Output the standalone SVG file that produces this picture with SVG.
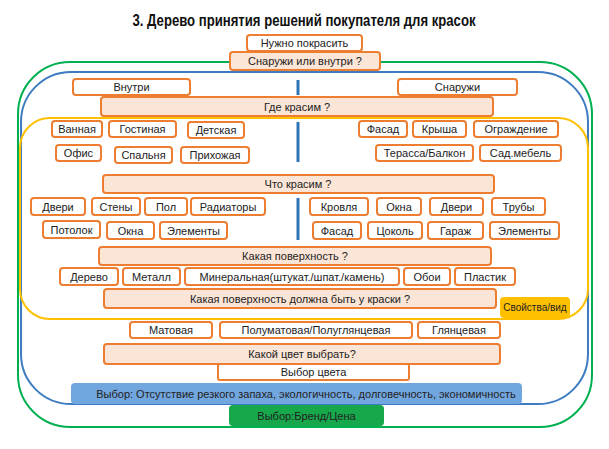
<svg xmlns="http://www.w3.org/2000/svg" width="609" height="449" viewBox="0 0 609 449">
<style>
.t{font-family:"Liberation Sans",Arial,sans-serif;font-size:11px;fill:#222;text-anchor:middle;dominant-baseline:central}
.b{fill:#fff;stroke:#ED7D31;stroke-width:2}
.p{fill:#FBE5D6;stroke:#ED7D31;stroke-width:2}
.ln{fill:none;stroke-width:2}
.tick{stroke:#2E75B6;stroke-width:3}
</style>
<rect width="609" height="449" fill="#fff"/>
<text x="304" y="20" font-family="Liberation Sans,Arial,sans-serif" font-weight="bold" font-size="16" text-anchor="middle" dominant-baseline="central" fill="#111" textLength="343" lengthAdjust="spacingAndGlyphs">3. Дерево принятия решений покупателя для красок</text>
<g id="frames">
<rect class="ln" x="18" y="62" width="574" height="365" rx="52" stroke="#00B050"/>
<rect class="ln" x="21" y="72" width="567" height="332" rx="50" stroke="#3D7CC0"/>
<rect class="ln" x="20" y="118" width="568" height="201" rx="30" stroke="#FFC000"/>
</g>
<g id="connectors">
<line class="tick" x1="298" y1="80" x2="298" y2="95"/>
<line class="tick" x1="298" y1="122" x2="298" y2="162"/>
<line class="tick" x1="298" y1="198" x2="298" y2="240"/>
</g>
<g id="n1"><rect class="b" x="247" y="35" width="115" height="16" rx="3"/><text class="t" x="304.5" y="43">Нужно покрасить</text></g>
<g id="n2"><rect class="p" x="230" y="52" width="150" height="18" rx="3"/><text class="t" x="305" y="61">Снаружи или внутри ?</text></g>
<g id="n3"><rect class="b" x="73" y="79" width="117" height="16" rx="3"/><text class="t" x="131.5" y="87">Внутри</text></g>
<g id="n4"><rect class="b" x="398" y="79" width="119" height="16" rx="3"/><text class="t" x="457.5" y="87">Снаружи</text></g>
<g id="n5"><rect class="p" x="101" y="97" width="392" height="19" rx="3"/><text class="t" x="297" y="106.5">Где красим  ?</text></g>
<g id="n6"><rect class="b" x="52" y="121" width="50" height="16" rx="3"/><text class="t" x="77" y="129">Ванная</text></g>
<g id="n7"><rect class="b" x="109" y="121" width="67" height="16" rx="3"/><text class="t" x="142.5" y="129">Гостиная</text></g>
<g id="n8"><rect class="b" x="188" y="122" width="56" height="16" rx="3"/><text class="t" x="216" y="130">Детская</text></g>
<g id="n9"><rect class="b" x="359" y="121" width="48" height="16" rx="3"/><text class="t" x="383" y="129">Фасад</text></g>
<g id="n10"><rect class="b" x="413" y="121" width="53" height="16" rx="3"/><text class="t" x="439.5" y="129">Крыша</text></g>
<g id="n11"><rect class="b" x="474" y="121" width="84" height="16" rx="3"/><text class="t" x="516" y="129">Ограждение</text></g>
<g id="n12"><rect class="b" x="56" y="145" width="45" height="16" rx="3"/><text class="t" x="78.5" y="153">Офис</text></g>
<g id="n13"><rect class="b" x="115" y="147" width="57" height="16" rx="3"/><text class="t" x="143.5" y="155">Спальня</text></g>
<g id="n14"><rect class="b" x="181" y="147" width="68" height="16" rx="3"/><text class="t" x="215" y="155">Прихожая</text></g>
<g id="n15"><rect class="b" x="376" y="145" width="97" height="16" rx="3"/><text class="t" x="424.5" y="153">Терасса/Балкон</text></g>
<g id="n16"><rect class="b" x="480" y="145" width="81" height="16" rx="3"/><text class="t" x="520.5" y="153">Сад.мебель</text></g>
<g id="n17"><rect class="p" x="103" y="175" width="391" height="18" rx="3"/><text class="t" x="298" y="184">Что  красим  ?</text></g>
<g id="n18"><rect class="b" x="31" y="198" width="54" height="17" rx="3"/><text class="t" x="58" y="206.5">Двери</text></g>
<g id="n19"><rect class="b" x="92" y="198" width="48" height="17" rx="3"/><text class="t" x="116" y="206.5">Стены</text></g>
<g id="n20"><rect class="b" x="145" y="198" width="42" height="17" rx="3"/><text class="t" x="166" y="206.5">Пол</text></g>
<g id="n21"><rect class="b" x="191" y="198" width="74" height="17" rx="3"/><text class="t" x="228" y="206.5">Радиаторы</text></g>
<g id="n22"><rect class="b" x="310" y="198" width="58" height="17" rx="3"/><text class="t" x="339" y="206.5">Кровля</text></g>
<g id="n23"><rect class="b" x="377" y="198" width="44" height="17" rx="3"/><text class="t" x="399" y="206.5">Окна</text></g>
<g id="n24"><rect class="b" x="430" y="198" width="53" height="17" rx="3"/><text class="t" x="456.5" y="206.5">Двери</text></g>
<g id="n25"><rect class="b" x="492" y="198" width="53" height="17" rx="3"/><text class="t" x="518.5" y="206.5">Трубы</text></g>
<g id="n26"><rect class="b" x="43" y="221" width="57" height="17" rx="3"/><text class="t" x="71.5" y="229.5">Потолок</text></g>
<g id="n27"><rect class="b" x="107" y="222" width="47" height="17" rx="3"/><text class="t" x="130.5" y="230.5">Окна</text></g>
<g id="n28"><rect class="b" x="160" y="222" width="67" height="17" rx="3"/><text class="t" x="193.5" y="230.5">Элементы</text></g>
<g id="n29"><rect class="b" x="313" y="222" width="48" height="17" rx="3"/><text class="t" x="337" y="230.5">Фасад</text></g>
<g id="n30"><rect class="b" x="368" y="222" width="54" height="17" rx="3"/><text class="t" x="395" y="230.5">Цоколь</text></g>
<g id="n31"><rect class="b" x="428" y="222" width="55" height="17" rx="3"/><text class="t" x="455.5" y="230.5">Гараж</text></g>
<g id="n32"><rect class="b" x="490" y="222" width="69" height="17" rx="3"/><text class="t" x="524.5" y="230.5">Элементы</text></g>
<g id="n33"><rect class="p" x="99" y="247" width="392" height="18" rx="3"/><text class="t" x="295" y="256">Какая поверхность ?</text></g>
<g id="n34"><rect class="b" x="60" y="268" width="58" height="17" rx="3"/><text class="t" x="89" y="276.5">Дерево</text></g>
<g id="n35"><rect class="b" x="123" y="268" width="57" height="17" rx="3"/><text class="t" x="151.5" y="276.5">Металл</text></g>
<g id="n36"><rect class="b" x="185" y="268" width="214" height="17" rx="3"/><text class="t" x="292" y="276.5">Минеральная(штукат./шпат./камень)</text></g>
<g id="n37"><rect class="b" x="404" y="268" width="46" height="17" rx="3"/><text class="t" x="427" y="276.5">Обои</text></g>
<g id="n38"><rect class="b" x="455" y="268" width="60" height="17" rx="3"/><text class="t" x="485" y="276.5">Пластик</text></g>
<g id="n39"><rect class="p" x="104" y="289" width="392" height="19" rx="3"/><text class="t" x="300" y="298.5">Какая поверхность должна быть у краски ?</text></g>
<g id="n40"><rect x="500" y="297" width="70" height="21" rx="4" fill="#FFC000"/><text class="t" x="535" y="307" style="font-size:10px">Свойства/вид</text></g>
<g id="n41"><rect class="b" x="130" y="322" width="82" height="16" rx="3"/><text class="t" x="171" y="330">Матовая</text></g>
<g id="n42"><rect class="b" x="220" y="322" width="192" height="16" rx="3"/><text class="t" x="316" y="330">Полуматовая/Полуглянцевая</text></g>
<g id="n43"><rect class="b" x="418" y="322" width="82" height="16" rx="3"/><text class="t" x="459" y="330">Глянцевая</text></g>
<g id="n44"><rect class="p" x="104" y="344" width="396" height="20" rx="3"/><text class="t" x="302" y="354">Какой цвет выбрать?</text></g>
<g id="n45"><rect class="b" x="218" y="364" width="191" height="16" rx="2"/><text class="t" x="313.5" y="372">Выбор цвета</text></g>
<g id="n46"><rect x="71" y="383" width="451" height="21" rx="4" fill="#72A6DF"/><text class="t" x="306" y="393.5">Выбор: Отсутствие резкого запаха, экологичность, долговечность, экономичность</text></g>
<g id="n47"><rect x="229" y="405" width="155" height="21" rx="4" fill="#17A84B"/><text class="t" x="306.5" y="415.5">Выбор:Бренд/Цена</text></g>
</svg>
